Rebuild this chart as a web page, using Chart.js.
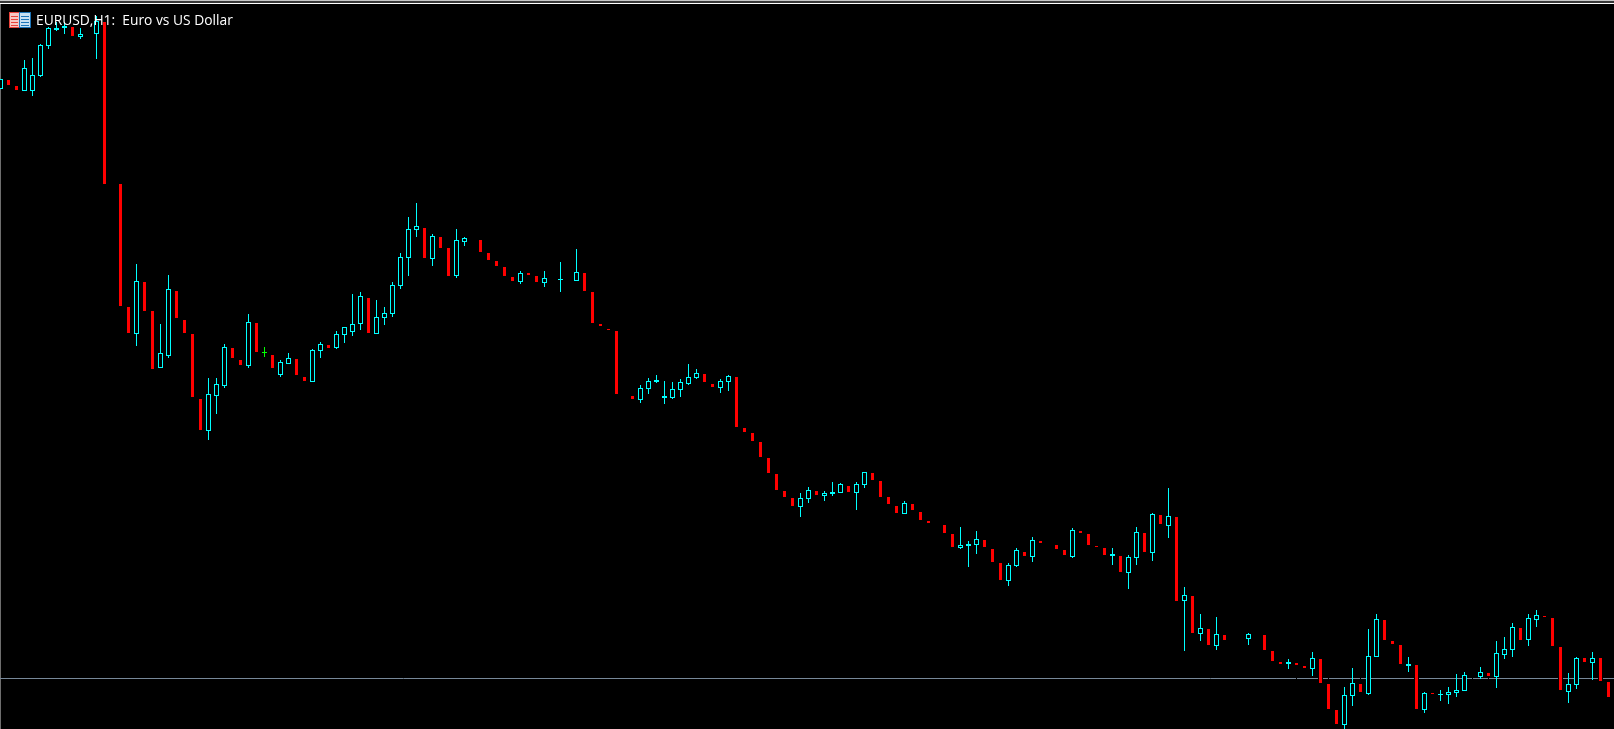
<!DOCTYPE html>
<html>
<head>
<meta charset="utf-8">
<title>EURUSD,H1</title>
<script src="https://cdn.jsdelivr.net/npm/chart.js@4"></script>
<style>
  html, body { margin: 0; padding: 0; background: #000; overflow: hidden; }
  canvas { display: block; }
</style>
</head>
<body>
<canvas id="myChart" width="1614" height="729"></canvas>
<script>
const chartTitle = "EURUSD,H1:  Euro vs US Dollar";

// prices in points above 1.09000, one slot per hour, null = no visible candle
const opens = [
  911, 920, 914, 909, 909, 924, 954, 970, 972, 973, 963, null, 966, 978, null, 816, 693, 666, 718, 689,
  632, 644, 709, 680, 666, 601, 569, 604, 614, 652, 640, 634, 677, 647, 645, 625, 636, 641, 623, 618,
  649, 655, 652, 665, 668, 676, 702, 666, 682, 686, 714, 742, 770, 772, 741, 763, 752, 724, 758, null,
  760, 747, 739, 733, 723, 718, 727, 724, 717, null, 720, null, 719, 727, 708, 676, 671, 669, null, 604,
  600, 611, 618, 602, 602, 610, 616, 622, 626, 616, 612, 618, 623, 572, 567, 558, 542, 526, 509, 502,
  493, 501, 509, 504, 506, 507, 514, 507, 515, 527, 519, 503, 494, 486, 496, 488, 479, null, 475, 466,
  452, 454, 455, 460, 451, 437, 419, 434, 448, 443, 459, null, 455, 450, 443, 469, 466, 454, 452, 444,
  444, 427, 442, 467, 447, 485, 474, 483, 399, 404, 366, 371, 354, 365, null, null, 361, null, 365, 349,
  338, 336, 337, 334, 331, 341, 316, 290, 275, 304, 316, 306, 343, 380, 359, 355, 334, 335, 290, 307,
  305, 305, 307, 309, 322, 323, 327, 323, 345, 350, 372, 360, 380, 384, 382, 353, 308, 315, 342, 337,
  342, 318,
];
const highs = [
  921, 920, 914, 940, 942, 956, 973, 978, 978, 973, 972, null, 984, 978, null, 816, 693, 736, 718, 689,
  676, 725, 709, 680, 666, 601, 622, 622, 656, 652, 640, 686, 677, 653, 645, 640, 647, 641, 623, 651,
  658, 655, 669, 673, 706, 708, 702, 700, 693, 718, 747, 783, 797, 772, 766, 763, 752, 771, 763, null,
  760, 747, 739, 733, 723, 729, 727, 724, 729, null, 738, null, 751, 727, 708, 676, 671, 669, null, 604,
  615, 622, 625, 619, 618, 621, 636, 631, 626, 616, 621, 625, 623, 572, 567, 558, 542, 526, 509, 502,
  507, 513, 509, 509, 518, 517, 514, 518, 528, 527, 519, 503, 494, 499, 496, 488, 479, null, 475, 466,
  473, 459, 469, 460, 451, 437, 437, 452, 448, 463, 459, null, 455, 450, 472, 469, 466, 454, 452, 452,
  444, 445, 473, 467, 487, 485, 512, 483, 413, 404, 386, 371, 383, 365, null, null, 367, null, 365, 349,
  338, 341, 337, 334, 348, 341, 323, 290, 313, 332, 323, 371, 386, 380, 359, 355, 343, 335, 308, 307,
  310, 313, 326, 328, 323, 333, 327, 359, 363, 377, 372, 386, 390, 384, 382, 353, 327, 343, 342, 348,
  342, 318,
];
const lows = [
  911, 915, 910, 909, 904, 923, 951, 969, 966, 964, 961, null, 941, 816, null, 694, 667, 654, 689, 631,
  632, 642, 682, 667, 603, 570, 560, 586, 612, 642, 635, 632, 648, 643, 632, 623, 636, 625, 619, 618,
  642, 652, 651, 657, 664, 670, 667, 666, 675, 683, 711, 724, 763, 742, 734, 752, 724, 722, 754, null,
  748, 740, 734, 724, 719, 716, 725, 718, 713, null, 708, null, 719, 709, 677, 674, 670, 606, null, 601,
  597, 606, 617, 596, 601, 603, 615, 621, 618, 613, 607, 609, 573, 568, 559, 543, 527, 510, 503, 494,
  483, 497, 505, 499, 504, 507, 508, 490, 512, 520, 503, 496, 487, 486, 490, 480, 477, null, 467, 453,
  451, 433, 446, 453, 438, 420, 414, 433, 444, 438, 457, null, 451, 445, 442, 467, 455, 453, 445, 435,
  428, 411, 435, 448, 439, 476, 462, 399, 349, 367, 359, 355, 350, 360, null, null, 355, null, 350, 339,
  336, 331, 320, 332, 324, 317, 291, 276, 271, 294, 308, 305, 343, 360, 356, 336, 328, 291, 287, 306,
  299, 296, 303, 309, 320, 321, 320, 312, 341, 343, 360, 354, 373, 383, 354, 310, 297, 311, 338, 320,
  319, 303,
];
const closes = [
  921, 915, 910, 932, 925, 955, 972, 972, 974, 964, 966, null, 979, 816, null, 694, 667, 719, 689, 631,
  647, 711, 682, 667, 603, 570, 606, 616, 653, 642, 635, 678, 648, 648, 632, 638, 642, 625, 619, 650,
  656, 652, 666, 673, 676, 704, 667, 683, 687, 715, 743, 771, 774, 742, 764, 752, 724, 760, 762, null,
  748, 740, 734, 724, 719, 727, 725, 718, 722, null, 721, null, 728, 709, 677, 674, 670, 606, null, 601,
  612, 619, 620, 604, 611, 618, 623, 627, 618, 613, 619, 624, 573, 568, 559, 543, 527, 510, 503, 494,
  502, 510, 505, 507, 508, 516, 508, 516, 528, 520, 503, 496, 487, 497, 490, 480, 477, null, 467, 453,
  455, 456, 461, 453, 438, 420, 435, 450, 444, 460, 457, null, 451, 445, 470, 467, 455, 453, 445, 446,
  428, 443, 468, 448, 486, 476, 484, 399, 405, 367, 372, 355, 366, 360, null, null, 366, null, 350, 339,
  336, 338, 335, 332, 342, 317, 291, 276, 305, 317, 308, 344, 381, 360, 356, 336, 336, 291, 307, 306,
  306, 308, 310, 325, 322, 328, 324, 347, 351, 373, 360, 382, 385, 383, 354, 310, 316, 342, 338, 342,
  319, 303,
];
// the one candle the terminal painted green
const greenBars = [33];
const priceLine = 321.5;

const xMin = -0.0625;
const xMax = 201.6875;

const slots = opens.map((o, i) => i).filter((i) => opens[i] !== null);
const isGreen = (i) => greenBars.includes(i);
const isBull = (i) => closes[i] > opens[i] && !isGreen(i);
const isBear = (i) => closes[i] <= opens[i] && !isGreen(i);

function wickColor(i) {
  if (isGreen(i)) return "#00ff00";
  return isBull(i) ? "#00ffff" : "#000000";
}

function bodies(test) {
  return slots.filter(test).map((i) => ({ x: i, y: [opens[i], closes[i]] }));
}

const barBase = {
  type: "bar",
  grouped: false,
  inflateAmount: 0,
  borderSkipped: false,
};

const frameAndTitle = {
  id: "frameAndTitle",
  beforeDatasetsDraw(chart) {
    const { ctx, width, height } = chart;
    ctx.save();
    ctx.fillStyle = "#c8c8c8";
    ctx.fillRect(0, 0, width, 1);
    ctx.fillStyle = "#383838";
    ctx.fillRect(0, 1, width, 2);
    ctx.fillStyle = "#ffffff";
    ctx.fillRect(0, 3, width, 1);
    ctx.fillStyle = "#6e6e6e";
    ctx.fillRect(0, 4, 1, height - 4);
    ctx.restore();
  },
  afterDatasetsDraw(chart) {
    const { ctx } = chart;
    ctx.save();
    //icon
    ctx.fillStyle = "#e8423a";
    ctx.fillRect(9, 12, 11, 16);
    ctx.fillStyle = "#1c74b8";
    ctx.fillRect(19, 12, 12, 16);
    ctx.fillStyle = "#f6c8c2";
    ctx.fillRect(10, 13, 9, 14);
    ctx.fillStyle = "#c8e0f2";
    ctx.fillRect(20, 13, 10, 14);
    for (let row = 16; row < 26; row += 3) {
      ctx.fillStyle = "#e8423a";
      ctx.fillRect(11, row, 7, 1);
      ctx.fillStyle = "#1c74b8";
      ctx.fillRect(21, row, 8, 1);
    }
    //label
    ctx.font = "13.8px 'Open Sans'";
    ctx.fillStyle = "#ffffff";
    ctx.textBaseline = "alphabetic";
    ctx.fillText(chartTitle, 36, 25);
    ctx.restore();
  },
};

new Chart(document.getElementById("myChart"), {
  data: {
    datasets: [
      {
        type: "line",
        data: [{ x: xMin, y: priceLine }, { x: xMax, y: priceLine }],
        borderColor: "#778899",
        borderWidth: 1,
        pointRadius: 0,
        order: 3,
      },
      {
        ...barBase,
        data: slots.map((i) => ({ x: i, y: [lows[i], highs[i]] })),
        backgroundColor: slots.map(wickColor),
        borderWidth: 0,
        maxBarThickness: 1,
        order: 2,
      },
      {
        ...barBase,
        data: bodies(isBull),
        backgroundColor: "#000000",
        borderColor: "#00ffff",
        borderWidth: 1,
        maxBarThickness: 5,
        order: 1,
      },
      {
        ...barBase,
        data: bodies(isBear),
        backgroundColor: "#ff0000",
        borderColor: "#000000",
        borderWidth: { left: 1, right: 1, top: 0, bottom: 0 },
        maxBarThickness: 5,
        order: 1,
      },
      {
        ...barBase,
        data: bodies(isGreen),
        backgroundColor: "#00ff00",
        borderColor: "#00ff00",
        borderWidth: 1,
        maxBarThickness: 5,
        order: 1,
      },
    ],
  },
  options: {
    responsive: false,
    animation: false,
    devicePixelRatio: 1,
    layout: { padding: 0 },
    plugins: {
      legend: { display: false },
      tooltip: { enabled: false },
    },
    scales: {
      x: { type: "linear", offset: false, min: xMin, max: xMax, display: false },
      y: { type: "linear", min: 271, max: 1000, display: false },
    },
  },
  plugins: [frameAndTitle],
});
</script>
</body>
</html>
